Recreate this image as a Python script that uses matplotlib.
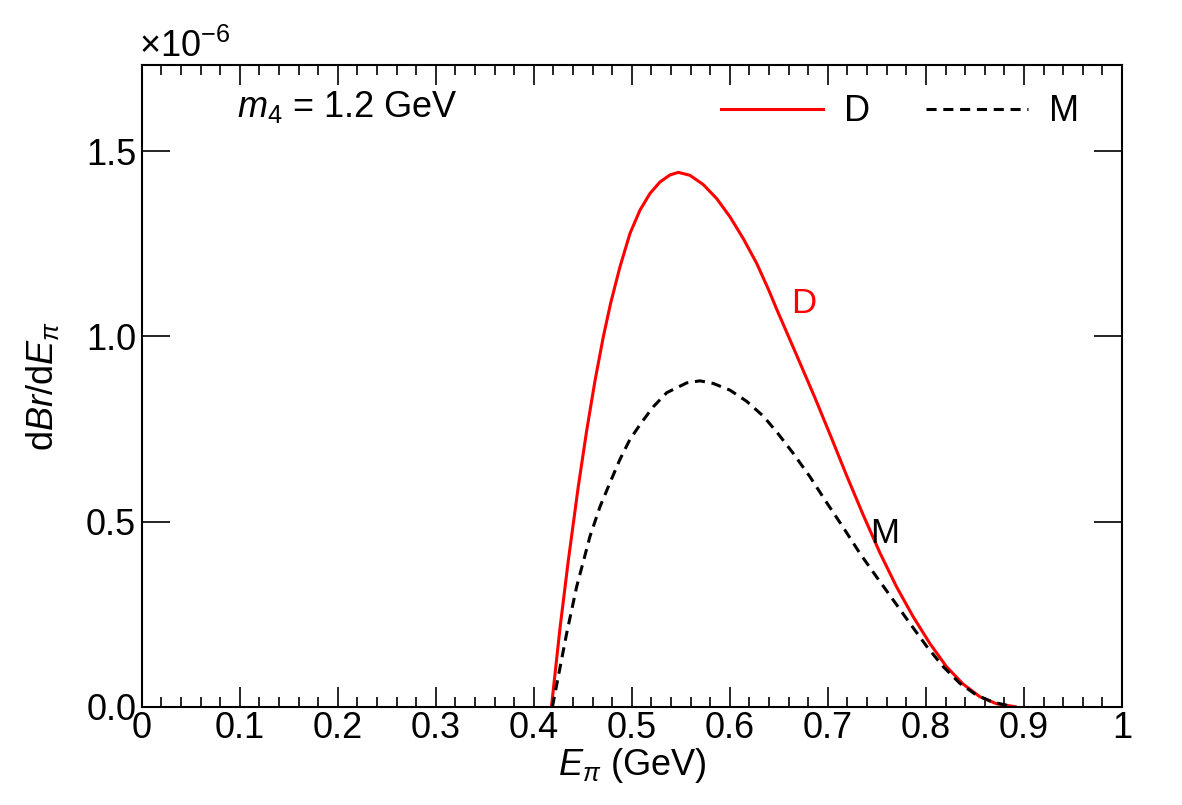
import numpy as np
import matplotlib.pyplot as plt
from matplotlib.ticker import MultipleLocator

plt.rcParams['font.family'] = ['Liberation Sans', 'DejaVu Sans']
plt.rcParams['mathtext.fontset'] = 'custom'
plt.rcParams['mathtext.rm'] = 'Liberation Sans'
plt.rcParams['mathtext.it'] = 'Liberation Sans:italic'

# values (y in units of 1e-6)
e_D = [0.418, 0.4267, 0.4352, 0.4454, 0.4539, 0.4624, 0.4709, 0.4784, 0.4879, 0.4981,
       0.5083, 0.5185, 0.5287, 0.5389, 0.5474, 0.5593, 0.5729, 0.5866, 0.6001, 0.6137,
       0.6274, 0.6392, 0.648, 0.668, 0.687, 0.703, 0.719, 0.736, 0.753, 0.770,
       0.787, 0.804, 0.821, 0.838, 0.855, 0.872, 0.891]
br_D = [0.0, 0.212, 0.395, 0.595, 0.745, 0.880, 0.999, 1.09, 1.188, 1.278,
        1.341, 1.386, 1.417, 1.436, 1.443, 1.435, 1.410, 1.372, 1.323, 1.264,
        1.197, 1.128, 1.072, 0.950, 0.833, 0.730, 0.625, 0.518, 0.416, 0.324,
        0.243, 0.171, 0.108, 0.061, 0.027, 0.008, 0.0]

e_M = [0.419, 0.4335, 0.4437, 0.4573, 0.4675, 0.4777, 0.4879, 0.4981, 0.510, 0.5219,
       0.5356, 0.556, 0.5695, 0.583, 0.600, 0.617, 0.634, 0.6478, 0.6647, 0.6817,
       0.6988, 0.7157, 0.7327, 0.7498, 0.7667, 0.7837, 0.8008, 0.8177, 0.8347, 0.8518,
       0.8687, 0.8824, 0.889]
br_M = [0.0, 0.198, 0.324, 0.46, 0.54, 0.605, 0.668, 0.722, 0.768, 0.810,
        0.848, 0.8745, 0.880, 0.873, 0.855, 0.825, 0.785, 0.742, 0.684, 0.621,
        0.551, 0.484, 0.414, 0.350, 0.288, 0.225, 0.163, 0.108, 0.063, 0.031,
        0.012, 0.004, 0.0]

x_ticks = [0, 0.1, 0.2, 0.3, 0.4, 0.5, 0.6, 0.7, 0.8, 0.9, 1]
x_labels = ["0", "0.1", "0.2", "0.3", "0.4", "0.5", "0.6", "0.7", "0.8", "0.9", "1"]
y_ticks = [0.0, 0.5, 1.0, 1.5]
y_labels = ["0.0", "0.5", "1.0", "1.5"]

fig = plt.figure(figsize=(11.82, 8.05), dpi=100)
ax = fig.add_axes([0.1199, 0.1221, 0.9492 - 0.1199, 0.9193 - 0.1221])

ax.plot(e_D, br_D, color='#ff0000', lw=2.2, label='D')
ax.plot(e_M, br_M, color='black', lw=2.2, dashes=(3.3, 2.2), label='M')

ax.set_xlim(0, 1)
ax.set_ylim(0, 1.733)

ax.set_xticks(x_ticks)
ax.set_xticklabels(x_labels)
ax.xaxis.set_minor_locator(MultipleLocator(0.02))
ax.set_yticks(y_ticks)
ax.set_yticklabels(y_labels)

ax.tick_params(which='both', direction='in', top=True, right=True, labelsize=26, width=1.2)
ax.tick_params(axis='x', which='major', length=14.5, pad=3)
ax.tick_params(axis='x', which='minor', length=7.2)
ax.tick_params(axis='y', which='major', length=20, pad=4)
for s in ax.spines.values():
    s.set_linewidth(1.5)

ax.set_xlabel(r'$E_{\pi}$ (GeV)', fontsize=26, labelpad=0)
ax.set_ylabel(r'd$Br$/d$E_{\pi}$', fontsize=26, labelpad=18)

ax.text(-0.003, 1.0, r'$\times$10$^{-6}$', transform=ax.transAxes, fontsize=26,
        ha='left', va='bottom')
ax.text(0.097, 0.935, r'$m_4$ = 1.2 GeV', transform=ax.transAxes, fontsize=26,
        ha='left', va='center')

ax.text(0.675, 1.088, 'D', color='#ff0000', fontsize=25, ha='center', va='center')
ax.text(0.758, 0.468, 'M', color='black', fontsize=25, ha='center', va='center')

ax.legend(loc='upper right', ncol=2, frameon=False, fontsize=26,
          handlelength=2.83, handletextpad=0.58, columnspacing=1.55,
          bbox_to_anchor=(0.971, 0.977), borderaxespad=0.0)

fig.savefig('out.png', dpi=100)
